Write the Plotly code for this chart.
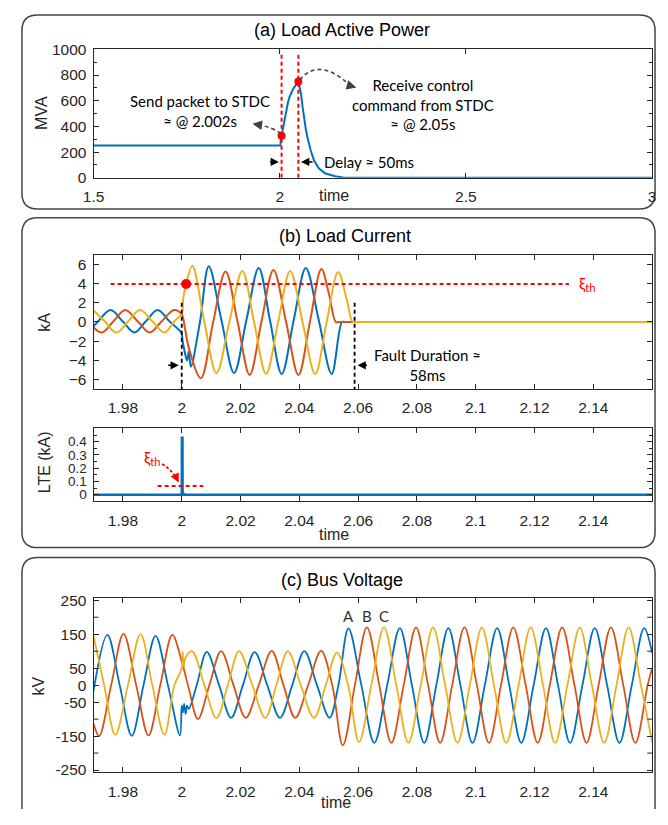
import plotly.graph_objects as go

# ---------------- data ----------------
# (a) Load active power (MVA)
P_T = [1.5, 2.002, 2.0025, 2.005, 2.009, 2.0136, 2.018, 2.0222, 2.0265, 2.0311, 2.0355, 2.0398,
       2.0445, 2.0495, 2.0515, 2.0545, 2.0573, 2.0615, 2.066, 2.0705, 2.0747, 2.0835, 2.0922,
       2.1053, 2.123, 2.149, 2.17, 3.0]
P_V = [251, 251, 290, 327, 410, 474, 535, 588, 630, 665, 690, 708,
       730, 749, 730, 700, 652, 550, 449, 370, 312, 211, 135,
       72, 34, 12, 2, 1]
P_MARK_T = [2.005, 2.05]
P_MARK_V = [327, 749]
P_VLINES = [2.005, 2.05]

# (b) Load current (kA), phases A (blue), B (orange), C (yellow)
IA_T = [1.97, 1.9716, 1.9758, 1.9799, 1.9839, 1.9878, 1.9918, 1.9958, 1.9996, 2.0, 2.0003,
        2.0008, 2.0018, 2.0024, 2.0031, 2.0062, 2.0092, 2.0135, 2.0178, 2.022, 2.0262, 2.03,
        2.034, 2.0381, 2.0422, 2.0466, 2.051, 2.0545, 2.0555, 2.065, 2.16]
IA_V = [-0.45, 0.07, 1.24, 0.07, -1.1, 0.07, 1.24, 0.07, -1.0, -1.2, -2.0,
        -2.8, -4.0, -3.1, -4.65, 0.0, 5.8, 0.2, -5.3, 0.2, 5.6, 0.2,
        -5.4, 0.2, 5.6, 0.2, -5.4, 0.0, 0.0, 0.0, 0.0]
IB_T = [1.97, 1.9728, 1.9768, 1.9808, 1.985, 1.9891, 1.9932, 1.9974, 2.0, 2.001, 2.0025,
        2.0065, 2.0107, 2.0149, 2.019, 2.0231, 2.0271, 2.0312, 2.0355, 2.0397, 2.0436, 2.0475,
        2.05, 2.0524, 2.0535, 2.062, 2.16]
IB_V = [-0.55, -1.1, 0.07, 1.24, 0.07, -1.1, 0.07, 1.24, 0.8, -0.5, -2.8,
        -5.85, 0.0, 5.25, 0.0, -5.5, 0.0, 5.4, 0.0, -5.5, 0.0, 5.5,
        3.0, 0.0, 0.0, 0.0, 0.0]
IC_T = [1.97, 1.9738, 1.9778, 1.9818, 1.9858, 1.99, 1.9941, 1.9975, 2.0, 2.0005, 2.0015,
        2.0036, 2.0077, 2.0118, 2.0162, 2.0206, 2.0246, 2.0287, 2.0328, 2.0369, 2.0411, 2.0454,
        2.0493, 2.0532, 2.056, 2.0581, 2.059, 2.067, 2.16]
IC_V = [1.2, 0.07, -1.1, 0.07, 1.24, 0.07, -1.1, 0.07, 0.9, 2.4, 3.95,
        5.85, 0.0, -5.3, 0.0, 5.3, 0.0, -5.4, 0.0, 5.3, 0.0, -5.4,
        0.0, 5.2, 2.5, 0.0, 0.0, 0.0, 0.0]
XI_TH = 3.95
XI_SPAN = [1.9758, 2.1317]
I_MARK = (2.0015, 3.95)
FAULT_T = [2.0, 2.0588]

# LTE (kA)
LTE_T = [1.97, 2.0, 2.00005, 2.00025, 2.0003, 2.0008, 2.16]
LTE_V = [0.0, 0.0, 0.43, 0.43, 0.02, 0.0, 0.0]
LTE_TH = 0.065
LTE_TH_SPAN = [1.9918, 2.0073]

# (c) Bus voltage (kV)
VA_T = [1.97, 1.9747, 1.9789, 1.983, 1.987, 1.9911, 1.9953, 1.9994, 2.0, 2.0004, 2.0008,
        2.0013, 2.0018, 2.0024, 2.0051, 2.0085, 2.0127, 2.0168, 2.0208, 2.0248, 2.0291, 2.0334,
        2.0376, 2.0417, 2.046, 2.0503, 2.0533, 2.0567, 2.0611, 2.0655, 2.0699, 2.0742, 2.0783,
        2.0825, 2.0866, 2.0907, 2.0948, 2.0989, 2.1031, 2.1073, 2.1114, 2.1155, 2.1197, 2.1239,
        2.128, 2.1321, 2.1363, 2.1405, 2.1447, 2.1489, 2.1531, 2.1573, 2.16]
VA_V = [-17, 148, 0, -149, 0, 145, 0, -148, -60, -80, -55,
        -85, -60, -70, 0, 98, 0, -96, 0, 97, 0, -96,
        0, 100, 0, -96, 0, 167, 0, -170, 0, 168, 0,
        -170, 0, 168, 0, -170, 0, 168, 0, -170, 0, 168,
        0, -170, 0, 168, 0, -170, 0, 168, 95]
VB_T = [1.97, 1.9719, 1.976, 1.9802, 1.9845, 1.9887, 1.9927, 1.9968, 2.0, 2.0024, 2.0055,
        2.0094, 2.0134, 2.0176, 2.0218, 2.0262, 2.0306, 2.0346, 2.0386, 2.043, 2.0474, 2.0512,
        2.0548, 2.0589, 2.063, 2.0672, 2.0713, 2.0755, 2.0797, 2.0838, 2.0879, 2.092, 2.0962,
        2.1004, 2.1045, 2.1086, 2.1128, 2.117, 2.1211, 2.1252, 2.1294, 2.1336, 2.1377, 2.1418,
        2.146, 2.1502, 2.1543, 2.1585, 2.16]
VB_V = [-113, -150, 0, 151, 0, -148, 0, 148, 70, -10, -100,
        0, 100, 0, -96, 0, 101, 0, -96, 0, 101, 0,
        -177, 0, 170, 0, -170, 0, 170, 0, -170, 0, 170,
        0, -170, 0, 170, 0, -170, 0, 170, 0, -170, 0,
        170, 0, -170, 0, 50]
VC_T = [1.97, 1.9736, 1.9774, 1.9817, 1.986, 1.99, 1.9941, 1.9975, 2.0, 2.0003, 2.0007,
        2.0012, 2.0035, 2.0077, 2.0118, 2.0157, 2.0195, 2.024, 2.0284, 2.0322, 2.0361, 2.0405,
        2.045, 2.049, 2.0528, 2.0566, 2.0603, 2.0645, 2.0688, 2.073, 2.0771, 2.0813, 2.0855,
        2.0896, 2.0938, 2.098, 2.1021, 2.1062, 2.1104, 2.1146, 2.1187, 2.1229, 2.127, 2.1312,
        2.1354, 2.1395, 2.1437, 2.1479, 2.152, 2.1562, 2.16]
VC_V = [145, 0, -146, 0, 150, 0, -146, 0, 50, 98, 55,
        80, 100, 0, -97, 0, 100, 0, -96, 0, 100, 0,
        -96, 0, 96, 0, -168, 0, 170, 0, -170, 0, 170,
        0, -170, 0, 170, 0, -170, 0, 170, 0, -170, 0,
        170, 0, -170, 0, 170, 0, -168]

PHASE_LABELS = ["A", "B", "C"]
PHASE_LABEL_T = [2.0567, 2.063, 2.0688]
PHASE_LABEL_V = 203

# tick labels
TA_VALS = [1.5, 2, 2.5, 3]
TA_TEXT = ["1.5", "2", "2.5", "3"]
TB_VALS = [1.98, 2.0, 2.02, 2.04, 2.06, 2.08, 2.1, 2.12, 2.14]
TB_TEXT = ["1.98", "2", "2.02", "2.04", "2.06", "2.08", "2.1", "2.12", "2.14"]
YC_VALS = [-250, -150, -50, 0, 50, 150, 250]
YC_TEXT = ["-250", "-150", "-50", "0", "50", "150", "250"]

# ---------------- style / layout ----------------
# The page keeps an 8px body margin, so the figure is 16px smaller than the window
# and all layout positions below are given in window pixels, shifted by OFF.
OFF = 8
W, H = 668 - 2 * OFF, 825 - 2 * OFF
BLUE, ORANGE, YELLOW = "#0072BD", "#D95319", "#EDB120"
AX = "#262626"
TXT_FONT = "Lato"
AX_FONT = "Liberation Sans"
PX0, PX1 = 84.3, 656.0


def xf(px):
    return (px - OFF) / W


def yf(py):
    return 1 - (py - OFF) / H


def ydom(top, bot):
    return [yf(bot), yf(top)]


def axstyle(**kw):
    d = dict(showline=True, linecolor=AX, linewidth=1, mirror="allticks", ticks="inside",
             ticklen=5, tickcolor=AX, tickwidth=1, showgrid=False, zeroline=False,
             tickfont=dict(family=AX_FONT, size=15.5, color=AX), ticklabelstandoff=3)
    d.update(kw)
    return d


fig = go.Figure()

fig.add_trace(go.Scatter(x=P_T, y=P_V, mode="lines", line=dict(color=BLUE, width=2),
                         xaxis="x", yaxis="y"))
for t, v, c in [(IA_T, IA_V, BLUE), (IB_T, IB_V, ORANGE), (IC_T, IC_V, YELLOW)]:
    fig.add_trace(go.Scatter(x=t, y=v, mode="lines", line=dict(color=c, width=2, shape="spline", smoothing=1),
                             xaxis="x2", yaxis="y2"))
fig.add_trace(go.Scatter(x=LTE_T, y=LTE_V, mode="lines", line=dict(color=BLUE, width=2.5),
                         xaxis="x3", yaxis="y3"))
for t, v, c in [(VA_T, VA_V, BLUE), (VB_T, VB_V, ORANGE), (VC_T, VC_V, YELLOW)]:
    fig.add_trace(go.Scatter(x=t, y=v, mode="lines", line=dict(color=c, width=1.8, shape="spline", smoothing=1),
                             xaxis="x4", yaxis="y4"))

fig.add_trace(go.Scatter(x=P_MARK_T, y=P_MARK_V, mode="markers", marker=dict(color="red", size=8),
                         xaxis="x", yaxis="y"))
fig.add_trace(go.Scatter(x=[I_MARK[0]], y=[I_MARK[1]], mode="markers", marker=dict(color="red", size=10),
                         xaxis="x2", yaxis="y2"))

shapes = []


def rbox(x0, y0, x1, y1, r=16, open_bottom=False):
    rx, ry = r / W, r / H
    X0, X1, Y0, Y1 = xf(x0), min(xf(x1), 0.9985), yf(y0), max(yf(y1), 0.0)
    if open_bottom:
        path = (f"M {X0},{Y1} L {X0},{Y0 - ry} Q {X0},{Y0} {X0 + rx},{Y0} "
                f"L {X1 - rx},{Y0} Q {X1},{Y0} {X1},{Y0 - ry} L {X1},{Y1}")
    else:
        path = (f"M {X0 + rx},{Y0} L {X1 - rx},{Y0} Q {X1},{Y0} {X1},{Y0 - ry} "
                f"L {X1},{Y1 + ry} Q {X1},{Y1} {X1 - rx},{Y1} L {X0 + rx},{Y1} "
                f"Q {X0},{Y1} {X0},{Y1 + ry} L {X0},{Y0 - ry} Q {X0},{Y0} {X0 + rx},{Y0} Z")
    return dict(type="path", path=path, xref="paper", yref="paper",
                line=dict(color="#454545", width=1.5), layer="below")


shapes += [rbox(11, 6, 666, 204), rbox(11, 213, 666, 550), rbox(11, 560, 666, 830, open_bottom=True)]

for t in P_VLINES:
    shapes.append(dict(type="line", xref="x", yref="y", x0=t, x1=t, y0=0, y1=960,
                       line=dict(color="red", width=2, dash="4px,3px")))
shapes.append(dict(type="path", xref="x", yref="y", path="M 2.003,345 Q 1.978,398 1.937,416",
                   line=dict(color="#404040", width=1.5, dash="4px,3px")))
shapes.append(dict(type="path", xref="x", yref="y", path="M 2.054,762 Q 2.106,946 2.19,716",
                   line=dict(color="#404040", width=1.5, dash="4px,3px")))
shapes.append(dict(type="line", xref="x2", yref="y2", x0=XI_SPAN[0], x1=XI_SPAN[1], y0=XI_TH, y1=XI_TH,
                   line=dict(color="red", width=2, dash="4px,3px")))
for t in FAULT_T:
    shapes.append(dict(type="line", xref="x2", yref="y2", x0=t, x1=t, y0=2.0, y1=-7,
                       line=dict(color="black", width=1.8, dash="4px,3px")))
shapes.append(dict(type="line", xref="x3", yref="y3", x0=LTE_TH_SPAN[0], x1=LTE_TH_SPAN[1], y0=LTE_TH, y1=LTE_TH,
                   line=dict(color="red", width=2, dash="4px,3px")))
shapes.append(dict(type="path", xref="x3", yref="y3", path="M 1.9933,0.232 Q 1.9965,0.19 1.9981,0.125",
                   line=dict(color="red", width=1.8, dash="3px,2px")))
for v in [-200, -100, 100, 200]:
    for x0, x1 in [(0, 5 / (PX1 - PX0)), (1 - 5 / (PX1 - PX0), 1)]:
        shapes.append(dict(type="line", xref="x4 domain", yref="y4", x0=x0, x1=x1, y0=v, y1=v,
                           line=dict(color=AX, width=1)))

ann = []


def text(x, y, s, xref="paper", yref="paper", size=16, color="black", family=TXT_FONT, **kw):
    d = dict(x=x, y=y, text=s, xref=xref, yref=yref, showarrow=False, xanchor="center", yanchor="middle",
             font=dict(family=family, size=size, color=color))
    d.update(kw)
    ann.append(d)


def arrow(x, y, ax, ay, xr, yr, color="black", size=1.1, width=1.5):
    ann.append(dict(x=x, y=y, ax=ax, ay=ay, xref=xr, yref=yr, axref=xr, ayref=yr, text="",
                    showarrow=True, arrowhead=2, arrowsize=size, arrowwidth=width, arrowcolor=color))


text(xf(338.5), yf(21.7), "(a) Load Active Power", size=18, color="#000", family=AX_FONT)
text(xf(342), yf(231.7), "(b) Load Current", size=18, color="#000", family=AX_FONT)
text(xf(338.5), yf(583.3), "(c) Bus Voltage", size=18, color="#000", family=AX_FONT)
text(xf(31.7), yf(105.8), "MVA", size=16, color=AX, family=AX_FONT, textangle=-90)
text(xf(34), yf(320), "kA", size=16, color=AX, family=AX_FONT, textangle=-90)
text(xf(35), yf(462.5), "LTE (kA)", size=16, color=AX, family=AX_FONT, textangle=-90)
text(xf(27.5), yf(691.7), "kV", size=16, color=AX, family=AX_FONT, textangle=-90)
text(xf(330), yf(190.7), "time", size=16, color=AX, family=AX_FONT)
text(xf(330), yf(537), "time", size=16, color=AX, family=AX_FONT)
text(xf(332), yf(810.5), "time", size=16, color=AX, family=AX_FONT)

text(1.786, 518, "Send packet to STDC<br>≈ @ 2.002s", xref="x", yref="y", size=15)
text(2.3856, 571, "Receive control<br>command from STDC<br>≈ @ 2.05s", xref="x", yref="y", size=15)
text(2.114, 124, "Delay ≈ 50ms", xref="x", yref="y", size=15, xanchor="left")
arrow(1.9978, 124, 1.9697, 124, "x", "y")
arrow(2.0573, 124, 2.0923, 124, "x", "y")
arrow(1.9266, 420, 1.939, 415, "x", "y", color="#404040", size=1.3)
arrow(2.2058, 703, 2.192, 714, "x", "y", color="#404040", size=1.3)

text(2.0836, -4.46, "Fault Duration ≈<br>58ms", xref="x2", yref="y2", size=15)
text(2.1346, XI_TH, "ξ<sub>th</sub>", xref="x2", yref="y2", size=16, color="red", xanchor="left")
arrow(1.999, -4.5, 1.9949, -4.5, "x2", "y2")
arrow(2.0598, -4.5, 2.0635, -4.5, "x2", "y2")
text(1.9902, 0.278, "ξ<sub>th</sub>", xref="x3", yref="y3", size=16, color="red")
arrow(1.999, 0.092, 1.9979, 0.14, "x3", "y3", color="red", size=1.2)

for s, t in zip(PHASE_LABELS, PHASE_LABEL_T):
    text(t, PHASE_LABEL_V, s, xref="x4", yref="y4", size=15, color="#333")

xd = [xf(PX0), xf(PX1)]
fig.update_layout(
    width=W, height=H, margin=dict(l=0, r=0, t=0, b=0, pad=0), showlegend=False,
    paper_bgcolor="white", plot_bgcolor="white",
    xaxis=axstyle(domain=xd, range=[1.5, 3], tickvals=TA_VALS, ticktext=TA_TEXT, anchor="y",
                  ticklabelstandoff=5, ticklabeloverflow="allow"),
    yaxis=axstyle(domain=ydom(41, 172.3), range=[0, 1000], dtick=200, anchor="x",
                  minor=dict(dtick=100, ticks="inside", ticklen=3, tickcolor=AX)),
    xaxis2=axstyle(domain=xd, range=[1.97, 2.16], tickvals=TB_VALS, ticktext=TB_TEXT, anchor="y2",
                   ticklabelstandoff=4),
    yaxis2=axstyle(domain=ydom(250.7, 388.3), range=[-7, 7], dtick=2, anchor="x2"),
    xaxis3=axstyle(domain=xd, range=[1.97, 2.16], tickvals=TB_VALS, ticktext=TB_TEXT, anchor="y3",
                   ticklabelstandoff=5),
    yaxis3=axstyle(domain=ydom(428.3, 502.7), range=[-0.05, 0.5], tickvals=[0, 0.1, 0.2, 0.3, 0.4],
                   ticktext=["0", "0.1", "0.2", "0.3", "0.4"], anchor="x3",
                   tickfont=dict(family=AX_FONT, size=13.5, color=AX),
                   minor=dict(dtick=0.05, ticks="inside", ticklen=3, tickcolor=AX)),
    xaxis4=axstyle(domain=xd, range=[1.97, 2.16], tickvals=TB_VALS, ticktext=TB_TEXT, anchor="y4",
                   ticklabelstandoff=5),
    yaxis4=axstyle(domain=ydom(601.7, 779.3), range=[-256, 256], tickvals=YC_VALS, ticktext=YC_TEXT, anchor="x4"),
    shapes=shapes, annotations=ann,
)

fig.write_html("out.html", config={"displayModeBar": False})
